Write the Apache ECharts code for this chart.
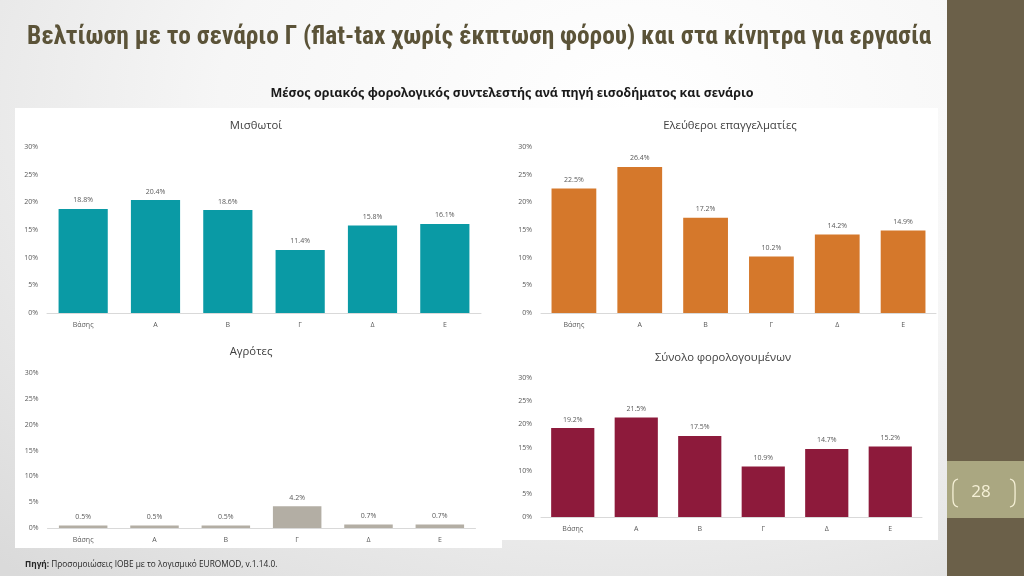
<!DOCTYPE html>
<html>
<head>
<meta charset="utf-8">
<script src="https://cdn.jsdelivr.net/npm/echarts@6/dist/echarts.min.js"></script>
<style>
html,body{margin:0;padding:0;width:1024px;height:576px;overflow:hidden;
background:radial-gradient(ellipse 90% 110% at 62% 18%, #ffffff 0%, #f6f6f6 45%, #dadada 100%);}
#c{width:1024px;height:576px;}
</style>
</head>
<body>
<div id="c"></div>
<script>
const categories = ['Βάσης','Α','Β','Γ','Δ','Ε'];
const misthotoi = [18.8, 20.4, 18.6, 11.4, 15.8, 16.1];
const eleftheroi = [22.5, 26.4, 17.2, 10.2, 14.2, 14.9];
const agrotes = [0.5, 0.5, 0.5, 4.2, 0.7, 0.7];
const synolo = [19.2, 21.5, 17.5, 10.9, 14.7, 15.2];
const yMin = 0, yMax = 30, yStep = 5;

const mainTitle = 'Βελτίωση με το σενάριο Γ (flat-tax χωρίς έκπτωση φόρου) και στα κίνητρα για εργασία';
const subTitle = 'Μέσος οριακός φορολογικός συντελεστής ανά πηγή εισοδήματος και σενάριο';
const panelTitles = ['Μισθωτοί','Ελεύθεροι επαγγελματίες','Αγρότες','Σύνολο φορολογουμένων'];
const seriesData = [misthotoi, eleftheroi, agrotes, synolo];
const colors = ['#0a9aa5', '#d5782b', '#b3aea4', '#8d1a3b'];

const grids = [
  {left: 47, right: 543, top: 147, bottom: 263},
  {left: 541, right: 88, top: 147, bottom: 263},
  {left: 47.5, right: 548.5, top: 373, bottom: 48},
  {left: 541, right: 102, top: 378, bottom: 59}
];
const titlePos = [[256,126],[730,126],[251,352],[723,358]];

const font = "'Open Sans', 'Noto Sans', sans-serif";

const chart = echarts.init(document.getElementById('c'), null, {renderer: 'canvas'});

const bracketL = [[958,479],[955,480.5],[953.5,483],[953,487],[953,499],[953.5,503],[955,505.5],[958,507]];
const bracketR = bracketL.map(p => [1968 - p[0], p[1]]);

const option = {
  backgroundColor: 'transparent',
  animation: false,
  grid: grids,
  xAxis: grids.map((g, i) => ({
    type: 'category', gridIndex: i, data: categories,
    axisLine: {lineStyle: {color: '#d9d9d9', width: 1}},
    axisTick: {show: false},
    axisLabel: {color: '#595959', fontSize: 7, fontFamily: font, margin: 8}
  })),
  yAxis: grids.map((g, i) => ({
    type: 'value', gridIndex: i, min: yMin, max: yMax, interval: yStep,
    axisLine: {show: false}, axisTick: {show: false},
    splitLine: {show: false},
    axisLabel: {color: '#595959', fontSize: 7, fontFamily: font, margin: 9,
      formatter: v => v + '%'}
  })),
  series: seriesData.map((d, i) => ({
    type: 'bar', xAxisIndex: i, yAxisIndex: i, data: d,
    barCategoryGap: '32%',
    itemStyle: {color: colors[i]},
    label: {show: true, position: 'top', distance: 5, color: '#595959',
      fontSize: 7, fontFamily: font, formatter: p => p.value.toFixed(1) + '%'}
  })),
  graphic: [
    {type: 'rect', z: -10, shape: {x: 15, y: 108, width: 487, height: 440}, style: {fill: '#ffffff'}},
    {type: 'rect', z: -10, shape: {x: 502, y: 108, width: 436, height: 432}, style: {fill: '#ffffff'}},
    {type: 'rect', z: -5, shape: {x: 947, y: 0, width: 77, height: 576}, style: {fill: '#6b6049'}},
    {type: 'rect', z: -4, shape: {x: 947, y: 461, width: 77, height: 57}, style: {fill: '#aaa781'}},
    {type: 'polyline', shape: {points: bracketL, smooth: 0.3},
      style: {fill: 'none', stroke: '#f5f0d6', lineWidth: 1.3}},
    {type: 'polyline', shape: {points: bracketR, smooth: 0.3},
      style: {fill: 'none', stroke: '#f5f0d6', lineWidth: 1.3}},
    {type: 'text', x: 981, y: 492, style: {text: '28', fill: '#f5f0d6', fontSize: 17,
      fontFamily: font, align: 'center', verticalAlign: 'middle'}},
    {type: 'text', x: 27, y: 38, style: {text: mainTitle, fill: '#5b5338', fontSize: 25.4,
      fontWeight: 'bold', fontFamily: "'Liberation Sans Narrow', 'Roboto Condensed', sans-serif",
      align: 'left', verticalAlign: 'middle'}},
    {type: 'text', x: 512, y: 93, style: {text: subTitle, fill: '#1a1a1a', fontSize: 12.5,
      fontWeight: 'bold', fontFamily: "'Noto Sans', sans-serif",
      align: 'center', verticalAlign: 'middle'}},
    ...panelTitles.map((t, i) => ({type: 'text', x: titlePos[i][0], y: titlePos[i][1],
      style: {text: t, fill: '#404040', fontSize: 11.3, fontFamily: font,
        align: 'center', verticalAlign: 'middle'}})),
    {type: 'text', x: 25, y: 565, style: {
      text: '{b|Πηγή:} Προσομοιώσεις ΙΟΒΕ με το λογισμικό EUROMOD, v.1.14.0.',
      rich: {b: {fontWeight: 'bold', fontSize: 8.3, fill: '#262626', fontFamily: font}},
      fill: '#262626', fontSize: 8.3, fontFamily: font, verticalAlign: 'middle'}}
  ]
};
chart.setOption(option);
</script>
</body>
</html>
